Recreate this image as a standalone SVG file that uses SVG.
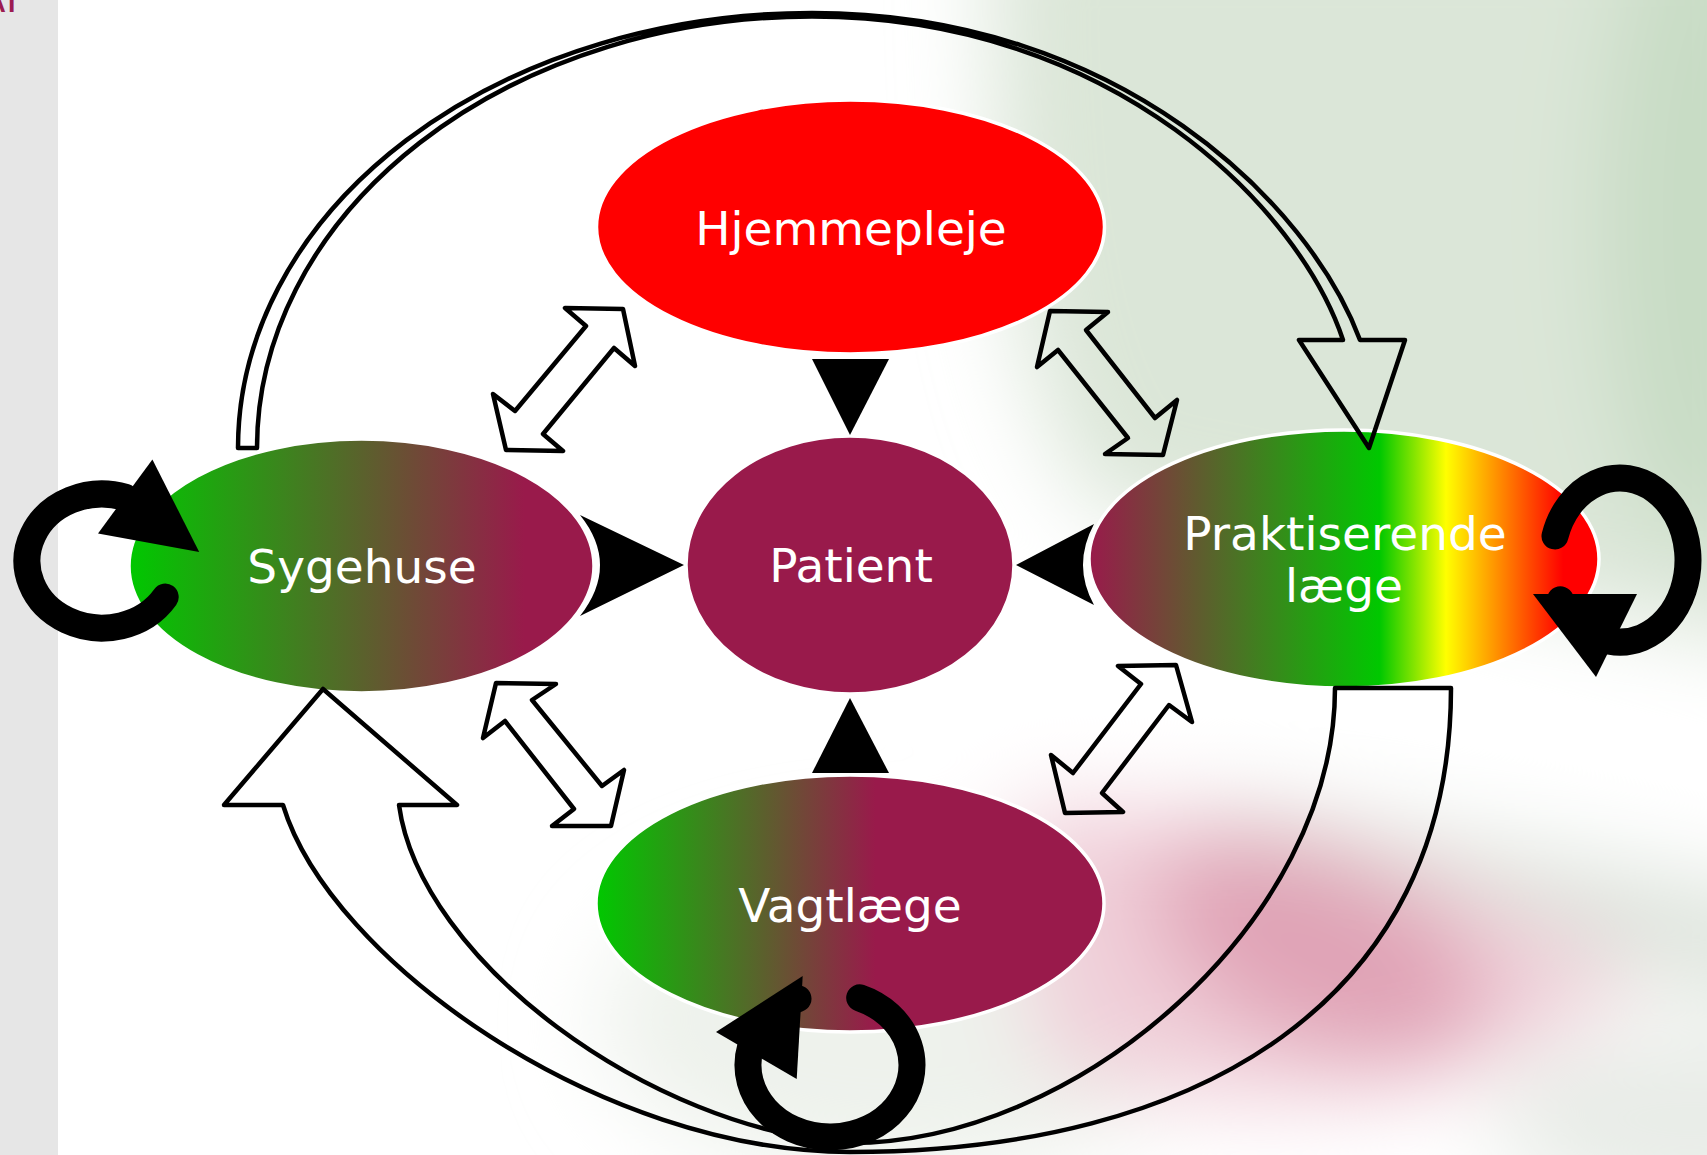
<svg xmlns="http://www.w3.org/2000/svg" width="1707" height="1155" viewBox="0 0 1707 1155">
<style>
.lbl{font-family:"DejaVu Sans","Liberation Sans",sans-serif;font-size:47px;fill:#ffffff;text-anchor:middle}
.node{stroke:#ffffff;stroke-width:3.5}
.hollow{fill:none;stroke:#000000;stroke-width:4.5;stroke-linejoin:round}
.ring{fill:none;stroke:#000000;stroke-width:27;stroke-linecap:round}
.solid{fill:#000000}
</style>
<defs>
<filter id="blur" x="-50%" y="-50%" width="200%" height="200%"><feGaussianBlur stdDeviation="45"/></filter>
<linearGradient id="gSyg" x1="0" y1="0" x2="1" y2="0"><stop offset="0" stop-color="#00c800"/><stop offset="0.85" stop-color="#991a4b"/></linearGradient>
<linearGradient id="gVag" x1="0" y1="0" x2="1" y2="0"><stop offset="0" stop-color="#00c800"/><stop offset="0.55" stop-color="#991a4b"/></linearGradient>
<linearGradient id="gPra" x1="0" y1="0" x2="1" y2="0"><stop offset="0" stop-color="#991a4b"/><stop offset="0.57" stop-color="#00c800"/><stop offset="0.70" stop-color="#ffff00"/><stop offset="0.82" stop-color="#ff7a00"/><stop offset="0.93" stop-color="#ff0000"/><stop offset="1" stop-color="#ff0000"/></linearGradient>
</defs>
<rect x="0" y="0" width="1707" height="1155" fill="#ffffff"/>
<g id="background" filter="url(#blur)">
<path d="M990,-100 L1800,-100 L1800,650 C1550,610 1300,540 1100,510 C1010,400 990,200 990,-100Z" fill="#dbe6d8"/>
<ellipse cx="1700" cy="220" rx="100" ry="330" fill="#c8dcc5"/>
<ellipse cx="900" cy="1020" rx="300" ry="160" fill="#eef2ec"/>
<path d="M1200,800 C1400,820 1600,860 1800,900 L1800,1010 C1600,970 1400,920 1200,880Z" fill="#dde4dc"/>
<path d="M1010,810 C1200,790 1450,870 1640,970 C1500,1110 1200,1130 1040,1060 Z" fill="#f0cfd9"/>
<ellipse cx="1320" cy="950" rx="180" ry="95" transform="rotate(25 1320 950)" fill="#e0a3b6"/>
<path d="M960,640 C1200,690 1500,770 1800,840" stroke="#ffffff" stroke-width="50" fill="none"/>
<ellipse cx="1690" cy="1120" rx="200" ry="90" fill="#e8ece7"/>
</g>
<rect x="0" y="0" width="58" height="1155" fill="#e6e6e6"/>
<text x="-13" y="11.5" font-family="Liberation Sans,Arial,sans-serif" font-size="26" font-weight="bold" fill="#9c1c52">AT</text>

<g id="node-hjemmepleje">
<ellipse class="node" cx="850.5" cy="227" rx="254" ry="127" fill="#ff0000"/>
<text class="lbl" x="851" y="245">Hjemmepleje</text>
</g>
<g id="node-patient">
<ellipse class="node" cx="850" cy="565" rx="164" ry="129" fill="#991a4b"/>
<text class="lbl" x="851" y="582">Patient</text>
</g>
<g id="node-sygehuse">
<ellipse class="node" cx="361.5" cy="566" rx="232.5" ry="127" fill="url(#gSyg)"/>
<text class="lbl" x="362" y="583">Sygehuse</text>
</g>
<g id="node-praktiserende">
<ellipse class="node" cx="1344" cy="559" rx="255" ry="129" fill="url(#gPra)"/>
<text class="lbl" x="1345" y="550">Praktiserende</text>
<text class="lbl" x="1344" y="602">læge</text>
</g>
<g id="node-vagtlaege">
<ellipse class="node" cx="850" cy="903.5" rx="254" ry="128.5" fill="url(#gVag)"/>
<text class="lbl" x="850" y="922">Vagtlæge</text>
</g>

<g id="connectors">
<path class="hollow" d="M238,448 A574,435 0 0 1 812,13 C1120,13 1310,205 1360,340 L1405,340 L1369,448 L1299,340 L1343,340 C1300,210 1115,16.5 812,16.5 A555,431.5 0 0 0 257,448 Z"/>
<path class="hollow" d="M1335,688 L1451,688 C1451,1000 1200,1152 850,1152 C600,1152 330,960 283,805 L224,805 L323,689 L457,805 L399,805 C420,960 650,1130 850,1143 C1080,1143 1335,920 1335,688 Z"/>
<polygon class="hollow" points="565,308 623,309 635,366 614,348 543,434 563,451 506,450 493,394 515,411 586,326"/>
<polygon class="hollow" points="1050,311 1108,312 1086,330 1155,418 1177,400 1163,455 1105,454 1128,438 1058,350 1037,367"/>
<polygon class="hollow" points="496,683 556,684 532,700 602,786 624,770 611,826 552,826 574,809 505,721 483,738"/>
<polygon class="hollow" points="1118,666 1176,665 1192,722 1169,705 1102,793 1123,812 1065,813 1051,755 1073,773 1141,684"/>
<polygon class="solid" points="812,359 889,359 850,435"/>
<polygon class="solid" points="812,773 889,773 850,698"/>
<path class="solid" d="M580,515 Q620,565 580,616 L684,565 Z"/>
<path class="solid" d="M1094,524 Q1072,565 1094,605 L1016,565 Z"/>
<path class="ring" d="M165.2,597.1 A75,67 0 1 1 125.2,497.3"/>
<polygon class="solid" points="152.4,459.4 199.2,552 98,533.4"/>
<path class="ring" d="M1555,536 A68,82 0 1 1 1560.5,599.8"/>
<polygon class="solid" points="1533,594 1637,594 1596,677"/>
<path class="ring" d="M859.7,997.9 A82,72 0 1 1 798,998.7"/>
<polygon class="solid" points="716,1032 802.7,976 796.7,1079"/>
</g>
</svg>
